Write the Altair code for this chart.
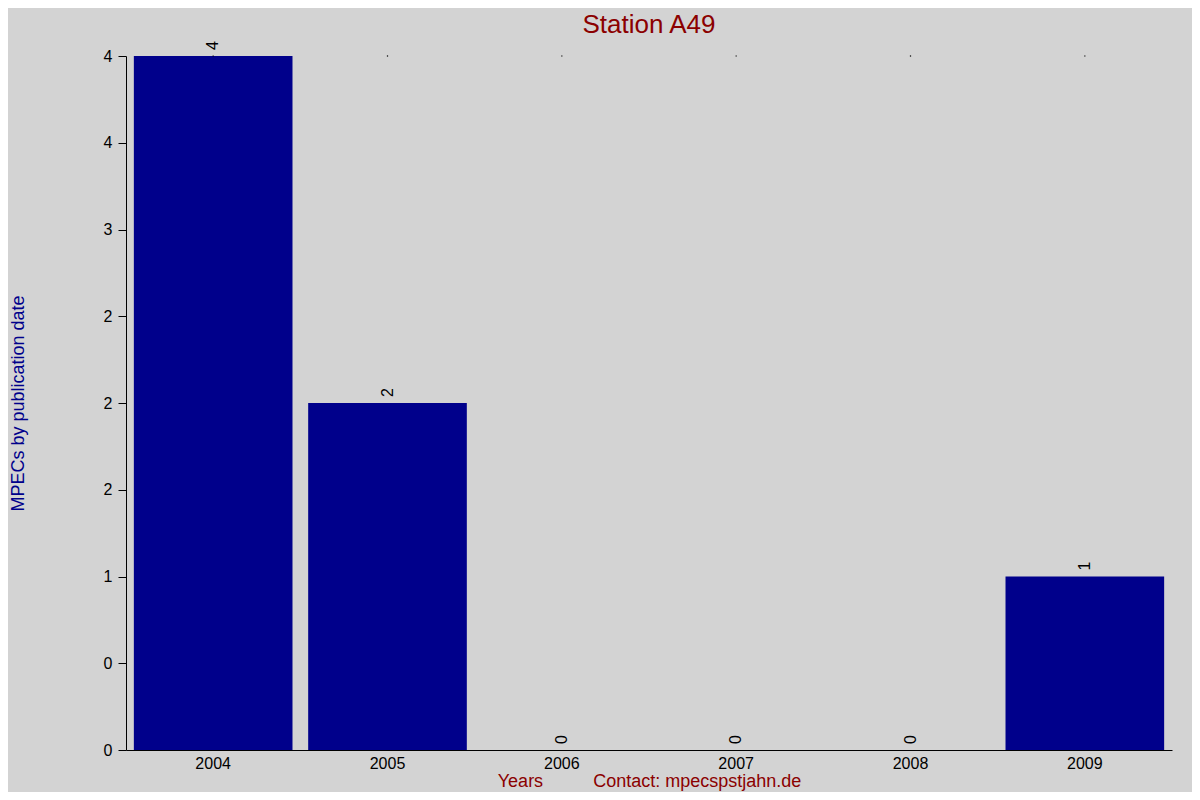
import altair as alt
import pandas as pd

years = ["2004", "2005", "2006", "2007", "2008", "2009"]
counts = [4, 2, 0, 0, 0, 1]
y_tick_values = [0, 0.5, 1, 1.5, 2, 2.5, 3, 3.5, 4]
y_tick_labels = ["0", "0", "1", "2", "2", "2", "3", "4", "4"]

title_text = "Station A49"
x_title = "Years" + "\u00a0" * 10 + "Contact: mpecspstjahn.de"
y_title = "MPECs by publication date"

FONT = "Liberation Sans"
df = pd.DataFrame({"year": years, "count": counts})

vals_js = "[" + ",".join(str(v) for v in y_tick_values) + "]"
labs_js = "[" + ",".join(f"'{l}'" for l in y_tick_labels) + "]"
label_expr = f"{labs_js}[indexof({vals_js}, datum.value)]"

x_enc = alt.X(
    "year:N",
    sort=years,
    scale=alt.Scale(paddingInner=0.09, paddingOuter=0.045),
    axis=alt.Axis(
        title=x_title,
        ticks=False,
        labelAngle=0,
        labelPadding=5,
        labelFontSize=16,
        labelColor="black",
        labelFont=FONT,
        domainColor="black",
        titleFont=FONT,
        titleFontSize=18,
        titleFontWeight="normal",
        titleColor="#8b0000",
        titlePadding=1,
    ),
)
y_enc = alt.Y(
    "count:Q",
    scale=alt.Scale(domain=[0, 4], nice=False),
    axis=alt.Axis(
        title=y_title,
        values=y_tick_values,
        labelExpr=label_expr,
        tickSize=8,
        tickColor="black",
        domainColor="black",
        labelPadding=6,
        labelFontSize=16,
        labelColor="black",
        labelFont=FONT,
        titleFont=FONT,
        titleFontSize=18,
        titleFontWeight="normal",
        titleColor="#00008b",
        titlePadding=76,
        grid=False,
    ),
)

base = alt.Chart(df).encode(x=x_enc, y=y_enc)

bars = base.mark_bar(color="#00008b")
labels = base.mark_text(
    angle=270, align="left", baseline="middle", dx=6,
    fontSize=16, font=FONT, color="black"
).encode(text="count:Q")
dots = alt.Chart(df).mark_square(size=1.5, color="black", opacity=1).encode(
    x=alt.X("year:N", sort=years), y=alt.datum(4)
)

chart = (
    alt.layer(bars, labels, dots)
    .properties(
        width=1046,
        height=694,
        title=alt.Title(
            title_text, fontSize=26, color="#8b0000", font=FONT,
            fontWeight="normal", offset=3
        ),
        autosize=alt.AutoSizeParams(type="none"),
        padding={"left": 118, "top": 48, "right": 20, "bottom": 42},
        background="#d3d3d3",
    )
    .configure_view(stroke=None)
)

chart.save("out.html", embed_options={"renderer": "svg", "actions": False})
